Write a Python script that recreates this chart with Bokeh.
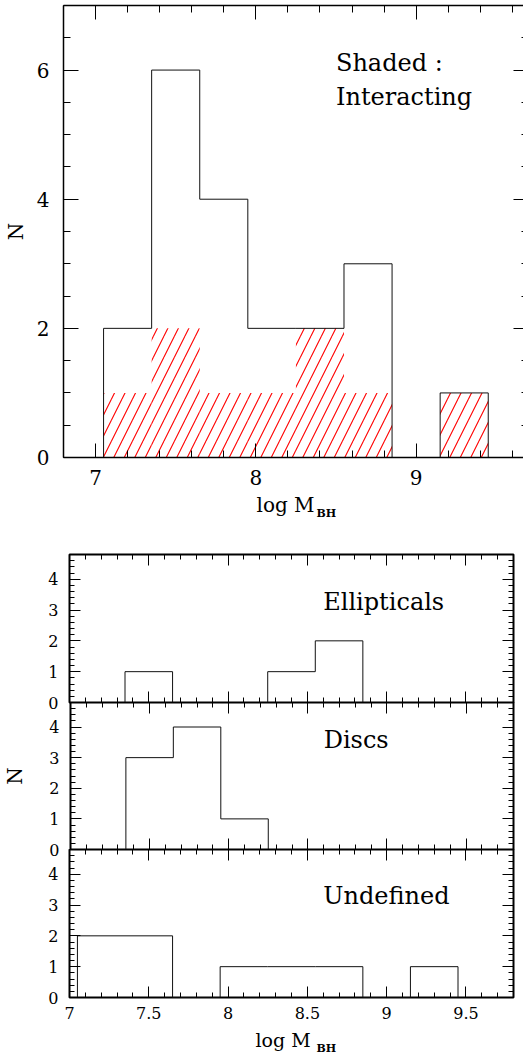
import numpy as np
from bokeh.plotting import figure
from bokeh.models import LinearAxis, SingleIntervalTicker, Label, Range1d, Plot
from bokeh.layouts import column
from bokeh.embed import file_html
from bokeh.resources import INLINE

# ---- data ----
bin_left = [7.05, 7.35, 7.65, 7.95, 8.25, 8.55, 8.85, 9.15]
bin_width = 0.3
total = [2, 6, 4, 2, 2, 3, 0, 1]
interacting = [1, 2, 1, 1, 2, 1, 0, 1]
ellipticals = [0, 1, 0, 0, 1, 2, 0, 0]
discs = [0, 3, 4, 1, 0, 0, 0, 0]
undefined = [2, 2, 0, 1, 1, 1, 0, 1]
panel_names = ["Ellipticals", "Discs", "Undefined"]

FONT = "DejaVu Serif"
ALIGN = {"frame_align": False} if "frame_align" in Plot.properties() else {}


def outline(counts):
    xs = [bin_left[0]] + list(bin_left) + [bin_left[-1] + bin_width]
    ys = [0] + list(counts) + [0]
    return xs, ys


def ticks(ax, major, minor):
    ax.major_tick_in = major
    ax.major_tick_out = 0
    ax.minor_tick_in = minor
    ax.minor_tick_out = 0
    ax.major_tick_line_color = "black"
    ax.minor_tick_line_color = "black"
    ax.major_tick_line_width = 1
    ax.minor_tick_line_width = 1


def hide_labels(ax):
    ax.major_label_text_color = None
    ax.major_label_text_font_size = "0px"
    ax.major_label_standoff = 0


def base_fig(**kw):
    p = figure(output_backend="svg", toolbar_location=None, **ALIGN, **kw)
    p.xgrid.visible = False
    p.ygrid.visible = False
    p.background_fill_color = "white"
    p.border_fill_color = None
    return p


def text_label(x, y, text, size, style="normal", units="data"):
    return Label(x=x, y=y, x_units=units, y_units=units, text=text, text_font=FONT,
                 text_font_size=size, text_font_style=style, text_baseline="middle",
                 text_align="left", text_color="black")


def label_fig(height, items):
    f = figure(width=523, height=height, x_range=Range1d(0, 523), y_range=Range1d(0, height),
               x_axis_location=None, y_axis_location=None, toolbar_location=None,
               output_backend="svg", min_border=0, min_border_left=0, min_border_right=0,
               min_border_top=0, min_border_bottom=0, **ALIGN)
    f.outline_line_color = None
    f.background_fill_color = None
    f.border_fill_color = None
    f.xgrid.visible = False
    f.ygrid.visible = False
    for x, y, text, size, style in items:
        f.add_layout(text_label(x, y, text, size, style, units="screen"))
    return f


# ---------------- top panel ----------------
top = base_fig(width=523, height=495, x_range=Range1d(6.8, 9.67), y_range=Range1d(0, 7),
               min_border_left=62, min_border_right=0, min_border_top=5, min_border_bottom=38,
               margin=(0, 0, -12, 0))
top.outline_line_color = None
txa = top.below[0]
tya = top.left[0]

xt = dict(interval=1, num_minor_ticks=5)
yt = dict(interval=2, num_minor_ticks=4)
txa.ticker = SingleIntervalTicker(**xt)
tya.ticker = SingleIntervalTicker(**yt)
ax_top = LinearAxis(ticker=SingleIntervalTicker(**xt))
ax_right = LinearAxis(ticker=SingleIntervalTicker(**yt))
top.add_layout(ax_top, "above")
top.add_layout(ax_right, "right")

ticks(txa, 14, 7)
ticks(ax_top, 14, 7)
ticks(tya, 15, 7)
ticks(ax_right, 10, 2)
hide_labels(ax_top)
hide_labels(ax_right)
ax_right.axis_line_color = None
for ax in [txa, tya, ax_top]:
    ax.axis_line_width = 1.5
    ax.axis_line_color = "black"

txa.major_label_text_font = FONT
txa.major_label_text_font_size = "20px"
txa.major_label_text_color = "black"
txa.major_label_standoff = 12
tya.major_label_text_font = FONT
tya.major_label_text_font_size = "20px"
tya.major_label_text_color = "black"
tya.major_label_standoff = 14
tya.axis_label = "N"
tya.axis_label_text_font = FONT
tya.axis_label_text_font_size = "20px"
tya.axis_label_text_font_style = "normal"
tya.axis_label_text_color = "black"
tya.axis_label_standoff = 6

rights = [l + bin_width for l in bin_left]
top.quad(left=bin_left, right=rights, bottom=0, top=interacting,
         fill_color=None, line_color=None, hatch_pattern="/", hatch_color="red",
         hatch_scale=21, hatch_weight=1.1)
xs, ys = outline(total)
top.step(xs, ys, mode="after", line_color="#111111", line_width=1)

top.add_layout(text_label(8.5, 6.11, "Shaded :", "24px"))
top.add_layout(text_label(8.5, 5.59, "Interacting", "24px"))

top_xlabel = label_fig(47, [(256, 25.5, "log M", "20px", "normal"),
                            (316, 17.5, "BH", "11px", "bold")])


# ---------------- bottom panels ----------------
def panel(counts, name, name_y, height, b_top, b_bottom, xlabels, ylabel, margin):
    p = base_fig(width=523, height=height, x_range=Range1d(7, 9.8), y_range=Range1d(0, 4.8),
                 min_border_left=69, min_border_right=10, min_border_top=b_top,
                 min_border_bottom=b_bottom, margin=margin)
    p.outline_line_color = "black"
    p.outline_line_width = 2
    xa = p.below[0]
    ya = p.left[0]
    bxt = dict(interval=0.5, num_minor_ticks=5)
    byt = dict(interval=1, num_minor_ticks=5)
    xa.ticker = SingleIntervalTicker(**bxt)
    ya.ticker = SingleIntervalTicker(**byt)
    a_top = LinearAxis(ticker=SingleIntervalTicker(**bxt))
    a_right = LinearAxis(ticker=SingleIntervalTicker(**byt))
    p.add_layout(a_top, "above")
    p.add_layout(a_right, "right")
    for ax in [xa, ya, a_top, a_right]:
        ticks(ax, 11, 5)
        ax.axis_line_color = None
    hide_labels(a_top)
    hide_labels(a_right)
    if xlabels:
        xa.major_label_text_font = FONT
        xa.major_label_text_font_size = "16px"
        xa.major_label_text_color = "black"
        xa.major_label_standoff = 9
    else:
        hide_labels(xa)
    ya.major_label_text_font = FONT
    ya.major_label_text_font_size = "16px"
    ya.major_label_text_color = "black"
    ya.major_label_standoff = 11
    if ylabel:
        ya.axis_label = "N"
        ya.axis_label_text_font = FONT
        ya.axis_label_text_font_size = "20px"
        ya.axis_label_text_font_style = "normal"
        ya.axis_label_text_color = "black"
        ya.axis_label_standoff = 19
    xs, ys = outline(counts)
    p.step(xs, ys, mode="after", line_color="#111111", line_width=1)
    p.add_layout(text_label(8.6, name_y, name, "24px"))
    return p


pe = panel(ellipticals, panel_names[0], 3.25, 184, 24, 12, False, False, (0, 0, -12, 0))
pd_ = panel(discs, panel_names[1], 3.58, 159, 0, 12, False, True, (0, 0, -12, 0))
pu = panel(undefined, panel_names[2], 3.29, 181, 0, 33, True, False, (0, 0, -10, 0))
bottom_xlabel = label_fig(35, [(255, 15.3, "log M", "19px", "normal"),
                               (316, 6.7, "BH", "11px", "bold")])

layout = column(top, top_xlabel, pe, pd_, pu, bottom_xlabel, spacing=0)
open("out.html", "w").write(file_html(layout, INLINE))
